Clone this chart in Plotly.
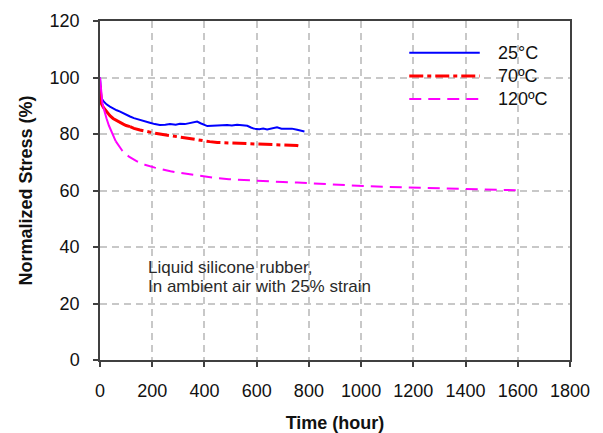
import plotly.graph_objects as go

# Stress relaxation of liquid silicone rubber at three temperatures
t_25 = [0, 2, 5, 13, 25, 38, 50, 64, 75, 89, 100, 115, 130, 153, 170, 191, 210, 229,
        250, 268, 290, 306, 325, 344, 360, 372, 385, 400, 411, 430, 449, 470, 487,
        505, 525, 545, 564, 578, 589, 610, 625, 640, 660, 678, 695, 717, 735, 755,
        770, 783]
s_25 = [100, 94.5, 92.8, 91.6, 90.5, 89.7, 89.0, 88.4, 88.0, 87.3, 86.9, 86.2, 85.6,
        84.9, 84.5, 84.0, 83.5, 83.2, 83.3, 83.5, 83.3, 83.6, 83.5, 83.9, 84.2, 84.4,
        83.8, 83.3, 82.8, 82.9, 83.0, 82.9, 83.2, 83.0, 83.3, 83.1, 82.9, 82.3, 81.9,
        81.7, 81.9, 81.6, 82.1, 82.4, 81.9, 81.8, 81.9, 81.5, 81.3, 80.9]

t_70 = [0, 2, 6, 13, 25, 38, 50, 64, 75, 89, 100, 115, 130, 153, 170, 191, 210, 229,
        250, 268, 290, 306, 325, 344, 370, 395, 420, 449, 480, 513, 545, 577, 610,
        640, 670, 704, 730, 755, 765]
s_70 = [97, 93, 90.6, 89.4, 87.9, 86.5, 85.5, 84.7, 84.1, 83.5, 83.0, 82.6, 82.0,
        81.4, 81.0, 80.6, 80.3, 80.0, 79.7, 79.4, 79.0, 78.8, 78.5, 78.2, 77.9, 77.6,
        77.3, 77.0, 76.9, 76.7, 76.5, 76.4, 76.4, 76.4, 76.3, 76.2, 76.0, 75.9, 75.7]

t_120 = [0, 3, 6, 9, 13, 20, 25, 34, 45, 60, 75, 86, 100, 111, 140, 175, 210, 239,
         270, 302, 335, 366, 430, 494, 560, 630, 700, 755, 830, 900, 1008, 1100,
         1180, 1265, 1350, 1430, 1520, 1593]
s_120 = [100, 96, 93.5, 91, 89.5, 86.8, 85.5, 83, 80.5, 77.5, 75.3, 74.0, 72.8, 72.0,
         70.4, 69.0, 68.1, 67.4, 66.8, 66.3, 65.8, 65.4, 64.6, 64.0, 63.6, 63.2, 63.0,
         62.8, 62.4, 62.1, 61.6, 61.3, 61.1, 60.9, 60.7, 60.6, 60.4, 60.1]

# name, times, stresses, colour, dash, width, number of densely logged
# early readings (these merge into a continuous stroke)
series = [
    ("25°C", t_25, s_25, "#0000FF", "solid", 2, 0),
    ("70ºC", t_70, s_70, "#FF0000", "14px,4px,4px,4px", 3, 11),
    ("120ºC", t_120, s_120, "#FF00FF", "12px,7px", 2, 9),
]

note_lines = ["Liquid silicone rubber,", "In ambient air with 25% strain"]

x_ticks = list(range(0, 1801, 200))
y_ticks = list(range(0, 121, 20))

FONT = "Arial, Liberation Sans, sans-serif"
INK = "#111111"

fig = go.Figure()
for name, t, s, color, dash, width, n_dense in series:
    fig.add_trace(go.Scatter(x=t[n_dense:] if n_dense else t,
                             y=s[n_dense:] if n_dense else s,
                             mode="lines", name=name,
                             line=dict(color=color, dash=dash, width=width),
                             showlegend=False))
    if n_dense:
        fig.add_trace(go.Scatter(x=t[:n_dense + 1], y=s[:n_dense + 1],
                                 mode="lines", name=name,
                                 line=dict(color=color, width=width),
                                 showlegend=False))

# Legend drawn as key lines with labels at the top right of the plot
legend_rows = [0.906, 0.838, 0.770]
for (name, _, _, color, dash, width, _), yp in zip(series, legend_rows):
    fig.add_shape(type="line", xref="paper", yref="paper",
                  x0=0.658, x1=0.808, y0=yp, y1=yp,
                  line=dict(color=color, dash=dash, width=width))
    fig.add_annotation(xref="paper", yref="paper", x=0.843, y=yp, text=name,
                       showarrow=False, xanchor="left", yanchor="middle",
                       font=dict(family=FONT, size=18, color=INK))

# Two-line note about the test conditions
for text, yp in zip(note_lines, [0.273, 0.217]):
    fig.add_annotation(xref="paper", yref="paper", x=0.097, y=yp, text=text,
                       showarrow=False, xanchor="left", yanchor="middle",
                       font=dict(family=FONT, size=17, color="#2a2a2a"))

axis_common = dict(showline=True, mirror=True, linecolor="#404040", linewidth=1.5,
                   ticks="outside", ticklen=5, tickcolor="#404040", tickwidth=1.5,
                   showgrid=True, gridcolor="#C8C8C8", gridwidth=1.5,
                   griddash="7px,5px", zeroline=False, automargin=False,
                   tickfont=dict(family=FONT, size=18, color=INK))

fig.update_xaxes(range=[0, 1800], tickvals=x_ticks, ticklabelstandoff=9,
                 title=dict(text="<b>Time (hour)</b>", standoff=17,
                            font=dict(family=FONT, size=18, color=INK)),
                 **axis_common)
fig.update_yaxes(range=[0, 120], tickvals=y_ticks, ticklabelstandoff=10,
                 title=dict(text="<b>Normalized Stress (%)</b>", standoff=12,
                            font=dict(family=FONT, size=18, color=INK)),
                 **axis_common)

fig.update_layout(width=603, height=433,
                  margin=dict(l=100, r=33, t=21, b=73),
                  paper_bgcolor="white", plot_bgcolor="white")

fig.write_html("out.html")
